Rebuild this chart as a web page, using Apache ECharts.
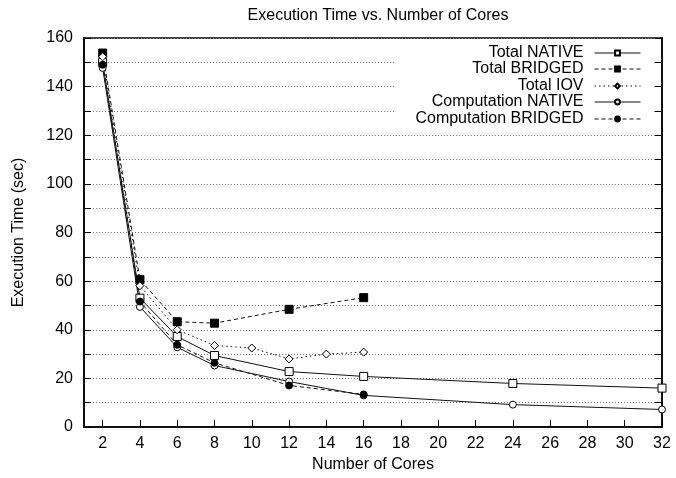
<!DOCTYPE html>
<html>
<head>
<meta charset="utf-8">
<script src="https://cdn.jsdelivr.net/npm/echarts@6/dist/echarts.min.js"></script>
<style>
html,body{margin:0;padding:0;background:#fff;}
#chart{width:676px;height:478px;}
</style>
</head>
<body>
<div id="chart"></div>
<script>
const xTicks = [2,4,6,8,10,12,14,16,18,20,22,24,26,28,30,32];
const nativeCores = [2,4,6,8,12,16,24,32];
const totalNative = [150,53,37.2,29.4,22.8,20.8,17.9,16];
const compNative = [147.7,49.4,32.8,25.3,18.7,13,9.2,7.2];
const bridgedCores = [2,4,6,8,12,16];
const totalBridged = [153.8,60.6,43.3,42.7,48.4,53.2];
const compBridged = [149,51.6,33.8,26.4,17.1,13.4];
const iovCores = [2,4,6,8,10,12,14,16];
const totalIov = [152.3,58.1,40,33.5,32.5,28,30,30.8];
const seriesNames = ['Total NATIVE','Total BRIDGED','Total IOV','Computation NATIVE','Computation BRIDGED'];

function pairs(xs, ys){ return xs.map((x,i)=>[x, ys[i]]); }

const FONT = 'Liberation Sans';
const chart = echarts.init(document.getElementById('chart'), null, {renderer:'canvas'});

const dashed = [4,3];
const dotted = [1.5,3];

function mkSeries(name, data, symbol, size, lineType, filled){
  return {
    name: name, type: 'line', data: data,
    symbol: symbol, symbolSize: size, showAllSymbol: true,
    lineStyle: {color:'#111', width:1, type: lineType},
    itemStyle: {color: filled ? '#000' : '#fff', borderColor:'#000', borderWidth:1},
    emphasis: {disabled:true},
    animation: false, z: 3
  };
}

const legendTops = [45,61,78,94,111];
const legends = seriesNames.map((n,i)=>({
  data:[n], orient:'vertical', align:'right', right:35, top:legendTops[i],
  padding:0, itemWidth:46, itemHeight:6, selectedMode:false,
  lineStyle:{width:1},
  textStyle:{fontFamily:FONT, fontSize:16, color:'#000', padding:[0,6,0,0]},
  z: 5
}));

chart.setOption({
  animation:false,
  backgroundColor:'#fff',
  title:{
    text:'Execution Time vs. Number of Cores',
    left:373, top:3, textAlign:'center',
    textStyle:{fontFamily:FONT, fontSize:16, fontWeight:'normal', color:'#000'}
  },
  legend: legends,
  graphic:[{
    type:'rect', z:1, silent:true,
    shape:{x:396, y:40, width:256, height:86},
    style:{fill:'#fff'}
  }],
  grid:{left:84, right:14, top:38, bottom:50, show:true, borderColor:'#000', borderWidth:1.5, containLabel:false},
  xAxis:{
    type:'value', min:1, max:32,
    name:'Number of Cores', nameLocation:'middle', nameGap:30,
    nameTextStyle:{fontFamily:FONT, fontSize:16, color:'#000'},
    axisLine:{show:true, lineStyle:{color:'#000', width:1.5}},
    axisTick:{show:true, inside:true, length:7, customValues:xTicks, lineStyle:{color:'#000', width:1}},
    axisLabel:{customValues:xTicks, fontFamily:FONT, fontSize:16, color:'#000', margin:9},
    splitLine:{show:false}
  },
  yAxis:[{
    type:'value', min:0, max:160, interval:10,
    name:'Execution Time (sec)', nameLocation:'middle', nameGap:57,
    nameTextStyle:{fontFamily:FONT, fontSize:16, color:'#000'},
    axisLine:{show:true, lineStyle:{color:'#000', width:1.5}},
    axisTick:{show:true, inside:true, length:7, lineStyle:{color:'#000', width:1}},
    axisLabel:{fontFamily:FONT, fontSize:16, color:'#000', margin:11,
      formatter:function(v){ return v % 20 === 0 ? String(v) : ''; }},
    splitLine:{show:true, lineStyle:{color:'#777', width:1, type:[1,2]}}
  },{
    type:'value', min:0, max:160, interval:10, position:'right',
    axisLine:{show:true, lineStyle:{color:'#000', width:1.5}},
    axisTick:{show:true, inside:true, length:7, lineStyle:{color:'#000', width:1}},
    axisLabel:{show:false},
    splitLine:{show:false}
  }],
  series:[
    mkSeries(seriesNames[0], pairs(nativeCores,totalNative), 'rect', 8, 'solid', false),
    mkSeries(seriesNames[1], pairs(bridgedCores,totalBridged), 'rect', 8, dashed, true),
    mkSeries(seriesNames[2], pairs(iovCores,totalIov), 'diamond', 8, dotted, false),
    mkSeries(seriesNames[3], pairs(nativeCores,compNative), 'circle', 7, 'solid', false),
    mkSeries(seriesNames[4], pairs(bridgedCores,compBridged), 'circle', 7, dashed, true)
  ]
});
</script>
</body>
</html>
